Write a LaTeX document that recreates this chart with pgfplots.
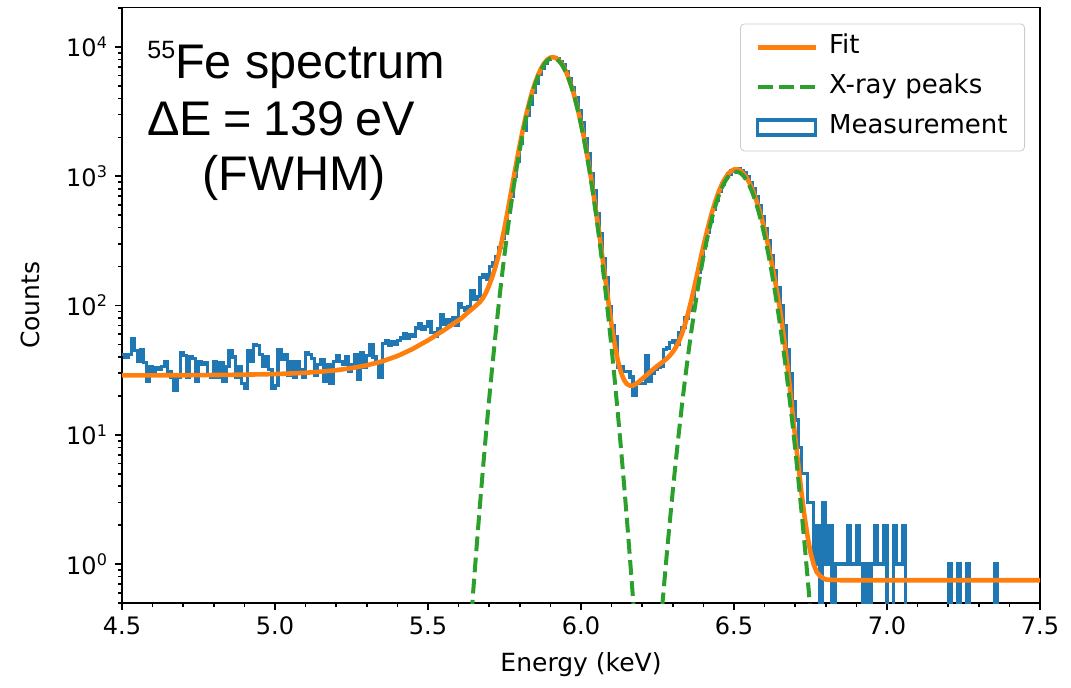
\documentclass[border=0pt]{standalone}
\usepackage{fontspec}
\setmainfont{DejaVu Sans}
\newfontfamily\arial{Liberation Sans}
\usepackage{pgfplots}
\usepackage{pgfplotstable}
\pgfplotsset{compat=1.18}
\definecolor{c0}{HTML}{1F77B4}
\definecolor{c1}{HTML}{FF7F0E}
\definecolor{c2}{HTML}{2CA02C}

% Measurement histogram: bin left edge (keV), counts (0 counts written as 0.01, below the axis)
\pgfplotstableread{
x y
4.50 42
4.51 40
4.52 42
4.53 55
4.54 45
4.55 37
4.56 46
4.57 36
4.58 26
4.59 34
4.60 31
4.61 33
4.62 32
4.63 34
4.64 37
4.65 31
4.66 28
4.67 22
4.68 28
4.69 43
4.70 41
4.71 28
4.72 40
4.73 39
4.74 26
4.75 37
4.76 35
4.77 36
4.78 29
4.79 28
4.80 37
4.81 28
4.82 36
4.83 26
4.84 34
4.85 45
4.86 40
4.87 28
4.88 34
4.89 25
4.90 23
4.91 45
4.92 37
4.93 50
4.94 49
4.95 42
4.96 34
4.97 40
4.98 32
4.99 23
5.00 24
5.01 46
5.02 38
5.03 42
5.04 29
5.05 37
5.06 28
5.07 37
5.08 32
5.09 28
5.10 43
5.11 42
5.12 39
5.13 29
5.14 35
5.15 38
5.16 26
5.17 35
5.18 25
5.19 37
5.20 41
5.21 37
5.22 35
5.23 40
5.24 31
5.25 35
5.26 42
5.27 27
5.28 43
5.29 33
5.30 41
5.31 50
5.32 40
5.33 37
5.34 28
5.35 51
5.36 54
5.37 49
5.38 53
5.39 50
5.40 54
5.41 56
5.42 61
5.43 56
5.44 60
5.45 58
5.46 67
5.47 73
5.48 65
5.49 69
5.50 75
5.51 62
5.52 58
5.53 66
5.54 85
5.55 72
5.56 78
5.57 74
5.58 80
5.59 70
5.60 104
5.61 96
5.62 92
5.63 98
5.64 130
5.65 112
5.66 118
5.67 165
5.68 175
5.69 160
5.70 200
5.71 215
5.72 240
5.73 280
5.74 330
5.75 410
5.76 540
5.77 700
5.78 990
5.79 1300
5.80 1780
5.81 2270
5.82 2950
5.83 3620
5.84 4480
5.85 5250
5.86 6120
5.87 6830
5.88 7530
5.89 7960
5.90 8300
5.91 8310
5.92 8200
5.93 7760
5.94 7250
5.95 6490
5.96 5740
5.97 4850
5.98 4080
5.99 3240
6.00 2600
6.01 1950
6.02 1490
6.03 1050
6.04 770
6.05 510
6.06 362
6.07 230
6.08 165
6.09 98
6.10 70
6.11 58
6.12 33
6.13 34
6.14 31
6.15 31
6.16 28
6.17 20
6.18 25
6.19 25
6.20 25
6.21 41
6.22 26
6.23 30
6.24 32
6.25 33
6.26 34
6.27 46
6.28 47
6.29 52
6.30 54
6.31 50
6.32 62
6.33 68
6.34 80
6.35 92
6.36 112
6.37 140
6.38 182
6.39 230
6.40 292
6.41 365
6.42 450
6.43 552
6.44 655
6.45 770
6.46 870
6.47 960
6.48 1040
6.49 1100
6.50 1125
6.51 1140
6.52 1110
6.53 1065
6.54 995
6.55 900
6.56 800
6.57 690
6.58 590
6.59 490
6.60 395
6.61 320
6.62 245
6.63 185
6.64 138
6.65 100
6.66 70
6.67 46
6.68 30
6.69 18
6.70 13
6.71 8
6.72 5
6.73 5
6.74 3
6.75 3
6.76 1
6.77 2
6.78 0.01
6.79 3
6.80 1
6.81 2
6.82 0.01
6.83 1
6.84 1
6.85 1
6.86 1
6.87 2
6.88 1
6.89 1
6.90 2
6.91 1
6.92 0.01
6.93 1
6.94 0.01
6.95 1
6.96 2
6.97 1
6.98 1
6.99 2
7.00 0.01
7.01 0.01
7.02 2
7.03 1
7.04 1
7.05 2
7.06 0.01
7.20 1
7.21 0.01
7.23 1
7.24 0.01
7.26 1
7.27 0.01
7.35 1
7.36 0.01
7.50 0.01
}\measured

% Fit (total model)
\pgfplotstableread{
x y
4.50 28.8
4.60 28.85
4.70 28.9
4.80 29.0
4.90 29.2
5.00 29.5
5.05 29.8
5.10 30.2
5.15 30.8
5.20 31.6
5.25 32.8
5.30 34.5
5.325 35.7
5.35 37.0
5.375 38.8
5.40 40.7
5.425 43.3
5.45 46.2
5.475 49.9
5.50 53.8
5.525 58.7
5.55 64.0
5.575 70.2
5.60 77
5.61 80
5.62 84.1
5.63 88.2
5.64 92.3
5.65 96.7
5.66 101.5
5.67 106.9
5.68 114.6
5.69 126.5
5.70 144
5.71 166.6
5.72 197.8
5.73 241.6
5.74 305
5.75 397
5.76 531
5.77 719
5.78 976
5.79 1317
5.80 1753
5.81 2288
5.82 2924
5.83 3650
5.84 4445
5.85 5274
5.86 6093
5.87 6853
5.88 7500
5.89 7989
5.90 8277
5.91 8339
5.92 8174
5.93 7792
5.94 7225
5.95 6516
5.96 5716
5.97 4878
5.98 4049
5.99 3270
6.00 2570
6.01 1967
6.02 1466
6.03 1065
6.04 754
6.05 521
6.06 354
6.07 236
6.08 157
6.09 104.5
6.10 70.7
6.11 50.2
6.12 37.8
6.13 30.7
6.14 26.7
6.15 24.7
6.16 24.0
6.17 24.0
6.18 24.8
6.19 25.8
6.20 27.1
6.21 28.4
6.22 29.8
6.23 31.2
6.24 32.7
6.25 34.2
6.26 35.6
6.27 37.1
6.28 38.8
6.29 41.0
6.30 43.7
6.31 47.5
6.32 52.9
6.33 60.6
6.34 71.7
6.35 87.3
6.36 108.5
6.37 137.6
6.38 176
6.39 226
6.40 288
6.41 361
6.42 448
6.43 545
6.44 650
6.45 757
6.46 861
6.47 955
6.48 1036
6.49 1094
6.50 1128
6.51 1133
6.52 1109
6.53 1058
6.54 985
6.55 894
6.56 792
6.57 684
6.58 577
6.59 476
6.60 385
6.61 303
6.62 233
6.63 176
6.64 130
6.65 94
6.66 64.6
6.67 42
6.68 26.4
6.69 15.8
6.70 9.56
6.71 5.9
6.72 3.64
6.73 2.38
6.74 1.66
6.75 1.23
6.76 1.0
6.77 0.87
6.78 0.815
6.79 0.78
6.80 0.76
6.85 0.75
7.50 0.75
}\fitcurve

% X-ray peaks (Gaussian components)
\pgfplotstableread{
x y
5.60 0.0137
5.62 0.0724
5.64 0.345
5.65 0.725
5.66 1.47
5.67 2.91
5.68 5.60
5.69 10.5
5.70 19.0
5.71 33.6
5.72 57.8
5.73 96.6
5.74 157
5.75 248
5.76 381
5.77 569
5.78 826
5.79 1167
5.80 1603
5.81 2140
5.82 2777
5.83 3505
5.84 4302
5.85 5134
5.86 5957
5.87 6721
5.88 7372
5.89 7865
5.90 8157
5.91 8225
5.92 8066
5.93 7690
5.94 7129
5.95 6426
5.96 5632
5.97 4800
5.98 3977
5.99 3204
6.00 2510
6.01 1912
6.02 1416
6.03 1020
6.04 714
6.05 486
6.06 322
6.07 207
6.08 130
6.09 79
6.10 46.7
6.11 26.9
6.12 15.0
6.13 8.18
6.14 4.33
6.15 2.23
6.16 1.11
6.17 0.54
6.18 0.256
6.19 0.118
6.20 0.057
6.21 0.032
6.22 0.029
6.23 0.045
6.24 0.085
6.25 0.17
6.26 0.33
6.27 0.63
6.28 1.17
6.29 2.10
6.30 3.69
6.31 6.31
6.32 10.5
6.33 17.0
6.34 26.9
6.35 41.3
6.36 61.7
6.37 90.0
6.38 127.7
6.39 176.6
6.40 238
6.41 311
6.42 397
6.43 494
6.44 598
6.45 705
6.46 809
6.47 904
6.48 985
6.49 1044
6.50 1078
6.51 1084
6.52 1061
6.53 1011
6.54 939
6.55 849
6.56 748
6.57 641
6.58 535
6.59 435
6.60 345
6.61 266
6.62 200
6.63 146
6.64 104
6.65 72.0
6.66 48.6
6.67 32.0
6.68 20.4
6.69 12.8
6.70 7.76
6.71 4.59
6.72 2.64
6.73 1.48
6.74 0.81
6.75 0.43
6.76 0.22
6.77 0.11
6.78 0.05
}\peaks

\begin{document}
\begin{tikzpicture}
\useasboundingbox (-61pt,-42pt) rectangle (474.5pt,301.5pt);
\begin{axis}[
  scale only axis, width=459pt, height=297.75pt,
  xmin=4.5, xmax=7.5, ymode=log, ymin=0.5, ymax=20200,
  axis line style={line width=0.9pt},
  tick pos=left, tick align=outside,
  major tick length=3.5pt, minor tick length=2pt,
  every tick/.style={black, line width=0.8pt},
  xtick={4.5,5,5.5,6,6.5,7,7.5},
  xticklabels={4.5,5.0,5.5,6.0,6.5,7.0,7.5},
  minor xtick={4.6,4.7,4.8,4.9,5.1,5.2,5.3,5.4,5.6,5.7,5.8,5.9,6.1,6.2,6.3,6.4,6.6,6.7,6.8,6.9,7.1,7.2,7.3,7.4},
  ytick={1,10,100,1000,10000},
  yticklabels={10\textsuperscript{0},10\textsuperscript{1},10\textsuperscript{2},10\textsuperscript{3},10\textsuperscript{4}},
  minor ytick={0.5,0.6,0.7,0.8,0.9,2,3,4,5,6,7,8,9,20,30,40,50,60,70,80,90,200,300,400,500,600,700,800,900,2000,3000,4000,5000,6000,7000,8000,9000,20000},
  tick label style={font=\fontsize{12}{14}\selectfont},
  xlabel={Energy (keV)}, ylabel={Counts},
  label style={font=\fontsize{12.5}{14}\selectfont},
  xlabel style={at={([yshift=-31pt]axis description cs:0.5,0)}, anchor=center},
  ylabel style={at={([xshift=-46pt]axis description cs:0,0.5)}, anchor=center},
  legend style={at={([xshift=-7.5pt,yshift=-8pt]axis description cs:1,1)}, anchor=north east,
    draw=black!20, rounded corners=2pt, fill=white,
    font=\fontsize{13}{15}\selectfont,
    inner xsep=7.5pt, inner ysep=5pt, row sep=6.5pt,
    nodes={inner sep=1pt, text height=9pt, text depth=2.5pt},
    /tikz/every odd column/.append style={column sep=4.5pt}},
  legend cell align=left,
  legend image code/.code={\draw[sharp corners,#1] (0pt,0pt) -- (29pt,0pt);},
]
\addlegendimage{c1, line width=2.3pt}
\addlegendentry{Fit}
\addlegendimage{c2, line width=2pt, dash pattern=on 7.4pt off 3.2pt}
\addlegendentry{X-ray peaks}
\addlegendimage{legend image code/.code={\draw[sharp corners, c0, line width=1.6pt] (0pt,-3.75pt) rectangle (29pt,3.75pt);}}
\addlegendentry{Measurement}

\addplot[c0, line width=1.6pt, const plot, forget plot] table {\measured};
\addplot[c1, line width=2.3pt, line join=round, forget plot] table {\fitcurve};
\addplot[c2, line width=2pt, dash pattern=on 7.4pt off 3.2pt, forget plot] table {\peaks};
\end{axis}
\node[anchor=base west, inner sep=0pt, font=\arial\fontsize{24.3}{28}\selectfont] at (12.5pt,262pt) {\raisebox{10pt}{\fontsize{12.5}{13}\selectfont 55}Fe spectrum};
\node[anchor=base west, inner sep=0pt, font=\arial\fontsize{24.3}{28}\selectfont] at (12.5pt,234pt) {ΔE\hspace{5.6pt}=\hspace{5.6pt}139\hspace{5.6pt}eV};
\node[anchor=base west, inner sep=0pt, font=\arial\fontsize{24.3}{28}\selectfont] at (40pt,206.5pt) {(FWHM)};
\end{tikzpicture}
\end{document}
